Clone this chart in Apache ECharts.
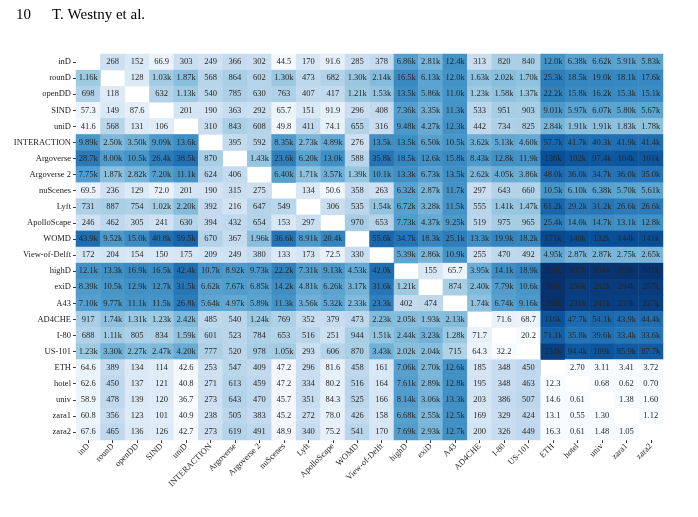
<!DOCTYPE html>
<html><head><meta charset="utf-8">
<script src="https://cdn.jsdelivr.net/npm/echarts@6/dist/echarts.min.js"></script>
<style>html,body{margin:0;padding:0;background:#fff}#c{width:698px;height:517px}</style>
</head><body><div id="c"></div>
<script>
const categories = ["inD","rounD","openDD","SIND","uniD","INTERACTION","Argoverse","Argoverse 2","nuScenes","Lyft","ApolloScape","WOMD","View-of-Delft","highD","exiD","A43","AD4CHE","I-80","US-101","ETH","hotel","univ","zara1","zara2"];

const row_inD = [null,268,152,66.9,303,249,366,302,44.5,170,91.6,285,378,6.86e3,2.81e3,12.4e3,313,820,840,12.0e3,6.38e3,6.62e3,5.91e3,5.83e3];
const row_rounD = [1.16e3,null,128,1.03e3,1.87e3,568,864,602,1.30e3,473,682,1.30e3,2.14e3,16.5e3,6.13e3,12.0e3,1.63e3,2.02e3,1.70e3,25.3e3,18.5e3,19.0e3,18.1e3,17.6e3];
const row_openDD = [698,118,null,632,1.13e3,540,785,630,763,407,417,1.21e3,1.53e3,13.5e3,5.86e3,11.0e3,1.23e3,1.58e3,1.37e3,22.2e3,15.8e3,16.2e3,15.3e3,15.1e3];
const row_SIND = [57.3,149,87.6,null,201,190,363,292,65.7,151,91.9,296,408,7.36e3,3.35e3,11.3e3,533,951,903,9.01e3,5.97e3,6.07e3,5.80e3,5.67e3];
const row_uniD = [41.6,568,131,106,null,310,843,608,49.8,411,74.1,655,316,9.48e3,4.27e3,12.3e3,442,734,825,2.84e3,1.91e3,1.91e3,1.83e3,1.78e3];
const row_INTERACTION = [9.89e3,2.50e3,3.50e3,9.09e3,13.6e3,null,395,592,8.35e3,2.73e3,4.89e3,276,13.5e3,13.5e3,6.50e3,10.5e3,3.62e3,5.13e3,4.60e3,57.7e3,41.7e3,40.3e3,41.9e3,41.4e3];
const row_Argoverse = [28.7e3,8.00e3,10.5e3,26.4e3,38.5e3,870,null,1.43e3,23.6e3,6.20e3,13.0e3,588,35.8e3,18.5e3,12.6e3,15.8e3,8.43e3,12.8e3,11.9e3,136e3,102e3,97.4e3,104e3,101e3];
const row_Argoverse2 = [7.75e3,1.87e3,2.82e3,7.20e3,11.1e3,624,406,null,6.40e3,1.71e3,3.57e3,1.39e3,10.1e3,13.3e3,6.73e3,13.5e3,2.62e3,4.05e3,3.86e3,48.0e3,36.0e3,34.7e3,36.0e3,35.0e3];
const row_nuScenes = [69.5,236,129,72.0,201,190,315,275,null,134,50.6,358,263,6.32e3,2.87e3,11.7e3,297,643,660,10.5e3,6.10e3,6.38e3,5.70e3,5.61e3];
const row_Lyft = [731,887,754,1.02e3,2.20e3,392,216,647,549,null,306,535,1.54e3,6.72e3,3.28e3,11.5e3,555,1.41e3,1.47e3,61.2e3,29.2e3,31.2e3,26.6e3,26.6e3];
const row_ApolloScape = [246,462,305,241,630,394,432,654,153,297,null,970,653,7.73e3,4.37e3,9.25e3,519,975,965,25.4e3,14.0e3,14.7e3,13.1e3,12.8e3];
const row_WOMD = [43.9e3,9.52e3,15.0e3,40.8e3,59.5e3,670,367,1.96e3,36.6e3,8.91e3,20.4e3,null,55.6e3,34.7e3,18.3e3,25.1e3,13.3e3,19.9e3,18.2e3,171e3,140e3,132e3,144e3,141e3];
const row_VoD = [172,204,154,150,175,209,249,380,133,173,72.5,330,null,5.39e3,2.86e3,10.9e3,255,470,492,4.95e3,2.87e3,2.87e3,2.75e3,2.65e3];
const row_highD = [12.1e3,13.3e3,16.9e3,16.5e3,42.4e3,10.7e3,8.92e3,9.73e3,22.2e3,7.31e3,9.13e3,4.53e3,42.0e3,null,155,65.7,3.95e3,14.1e3,18.9e3,396e3,337e3,334e3,359e3,341e3];
const row_exiD = [8.39e3,10.5e3,12.9e3,12.7e3,31.5e3,6.62e3,7.67e3,6.85e3,14.2e3,4.81e3,6.26e3,3.17e3,31.6e3,1.21e3,null,874,2.40e3,7.79e3,10.6e3,380e3,256e3,262e3,264e3,257e3];
const row_A43 = [7.10e3,9.77e3,11.1e3,11.5e3,26.8e3,5.64e3,4.97e3,5.89e3,11.3e3,3.56e3,5.32e3,2.33e3,23.3e3,402,474,null,1.74e3,6.74e3,9.16e3,380e3,231e3,241e3,233e3,227e3];
const row_AD4CHE = [917,1.74e3,1.31e3,1.23e3,2.42e3,485,540,1.24e3,769,352,379,473,2.23e3,2.05e3,1.93e3,2.13e3,null,71.6,68.7,116e3,47.7e3,54.1e3,43.9e3,44.4e3];
const row_I80 = [688,1.11e3,805,834,1.59e3,601,523,784,653,516,251,944,1.51e3,2.44e3,3.23e3,1.28e3,71.7,null,20.2,71.1e3,35.8e3,39.6e3,33.4e3,33.6e3];
const row_US101 = [1.23e3,3.30e3,2.27e3,2.47e3,4.20e3,777,520,978,1.05e3,293,606,870,3.43e3,2.02e3,2.04e3,715,64.3,32.2,null,234e3,94.4e3,109e3,85.9e3,87.7e3];
const row_ETH = [64.6,389,134,114,42.6,253,547,409,47.2,296,81.6,458,161,7.06e3,2.70e3,12.6e3,185,348,450,null,2.70,3.11,3.41,3.72];
const row_hotel = [62.6,450,137,121,40.8,271,613,459,47.2,334,80.2,516,164,7.61e3,2.89e3,12.8e3,195,348,463,12.3,null,0.68,0.62,0.70];
const row_univ = [58.9,478,139,120,36.7,273,643,470,45.7,351,84.3,525,166,8.14e3,3.06e3,13.3e3,203,386,507,14.6,0.61,null,1.38,1.60];
const row_zara1 = [60.8,356,123,101,40.9,238,505,383,45.2,272,78.0,426,158,6.68e3,2.55e3,12.5e3,169,329,424,13.1,0.55,1.30,null,1.12];
const row_zara2 = [67.6,465,136,126,42.7,273,619,491,48.9,340,75.2,541,170,7.69e3,2.93e3,12.7e3,200,326,449,16.3,0.61,1.48,1.05,null];

const matrix = [row_inD,row_rounD,row_openDD,row_SIND,row_uniD,row_INTERACTION,row_Argoverse,row_Argoverse2,row_nuScenes,row_Lyft,row_ApolloScape,row_WOMD,row_VoD,row_highD,row_exiD,row_A43,row_AD4CHE,row_I80,row_US101,row_ETH,row_hotel,row_univ,row_zara1,row_zara2];

const LMIN = 1.57, LMAX = 5.6;
const data = [];
matrix.forEach((row, i) => row.forEach((v, j) => {
  if (v === null) return;
  const l = Math.min(LMAX, Math.max(LMIN, Math.log10(v)));
  data.push([j, i, v, l]);
}));

function fmt(v) {
  if (v >= 1000) return (v / 1000).toPrecision(3) + 'k';
  if (v < 1) return v.toFixed(2);
  return v.toPrecision(3);
}

const FONT = '"Liberation Serif", "DejaVu Serif", serif';
const chart = echarts.init(document.getElementById('c'), null, {renderer: 'canvas'});
chart.setOption({
  backgroundColor: '#fff',
  animation: false,
  title: [
    {text: '10', left: 11, top: 3, textStyle: {fontFamily: FONT, fontSize: 15, fontWeight: 'normal', color: '#000'}},
    {text: 'T. Westny et al.', left: 47, top: 3, textStyle: {fontFamily: FONT, fontSize: 15, fontWeight: 'normal', color: '#000'}}
  ],
  grid: {left: 76, top: 54, width: 587, height: 386, containLabel: false},
  xAxis: {
    type: 'category', data: categories, position: 'bottom',
    axisLine: {show: false},
    axisTick: {show: true, alignWithLabel: true, length: 3, lineStyle: {color: '#333'}},
    axisLabel: {rotate: 45, fontFamily: FONT, fontSize: 8.5, color: '#222', margin: 5, interval: 0},
    splitLine: {show: false}
  },
  yAxis: {
    type: 'category', data: categories, inverse: true,
    axisLine: {show: false},
    axisTick: {show: true, alignWithLabel: true, length: 3, lineStyle: {color: '#333'}},
    axisLabel: {fontFamily: FONT, fontSize: 8.5, color: '#222', margin: 5, interval: 0},
    splitLine: {show: false}
  },
  visualMap: {
    type: 'continuous', show: false, dimension: 3, min: LMIN, max: LMAX,
    inRange: {color: ['#f7fbff','#deebf7','#c6dbef','#9ecae1','#6baed6','#4292c6','#2171b5','#08519c','#08306b']}
  },
  series: [{
    type: 'heatmap', data: data,
    label: {show: true, fontFamily: FONT, fontSize: 8.5, color: '#262626',
      formatter: p => fmt(p.value[2])},
    itemStyle: {borderWidth: 0},
    emphasis: {disabled: true}
  }]
});
</script></body></html>
